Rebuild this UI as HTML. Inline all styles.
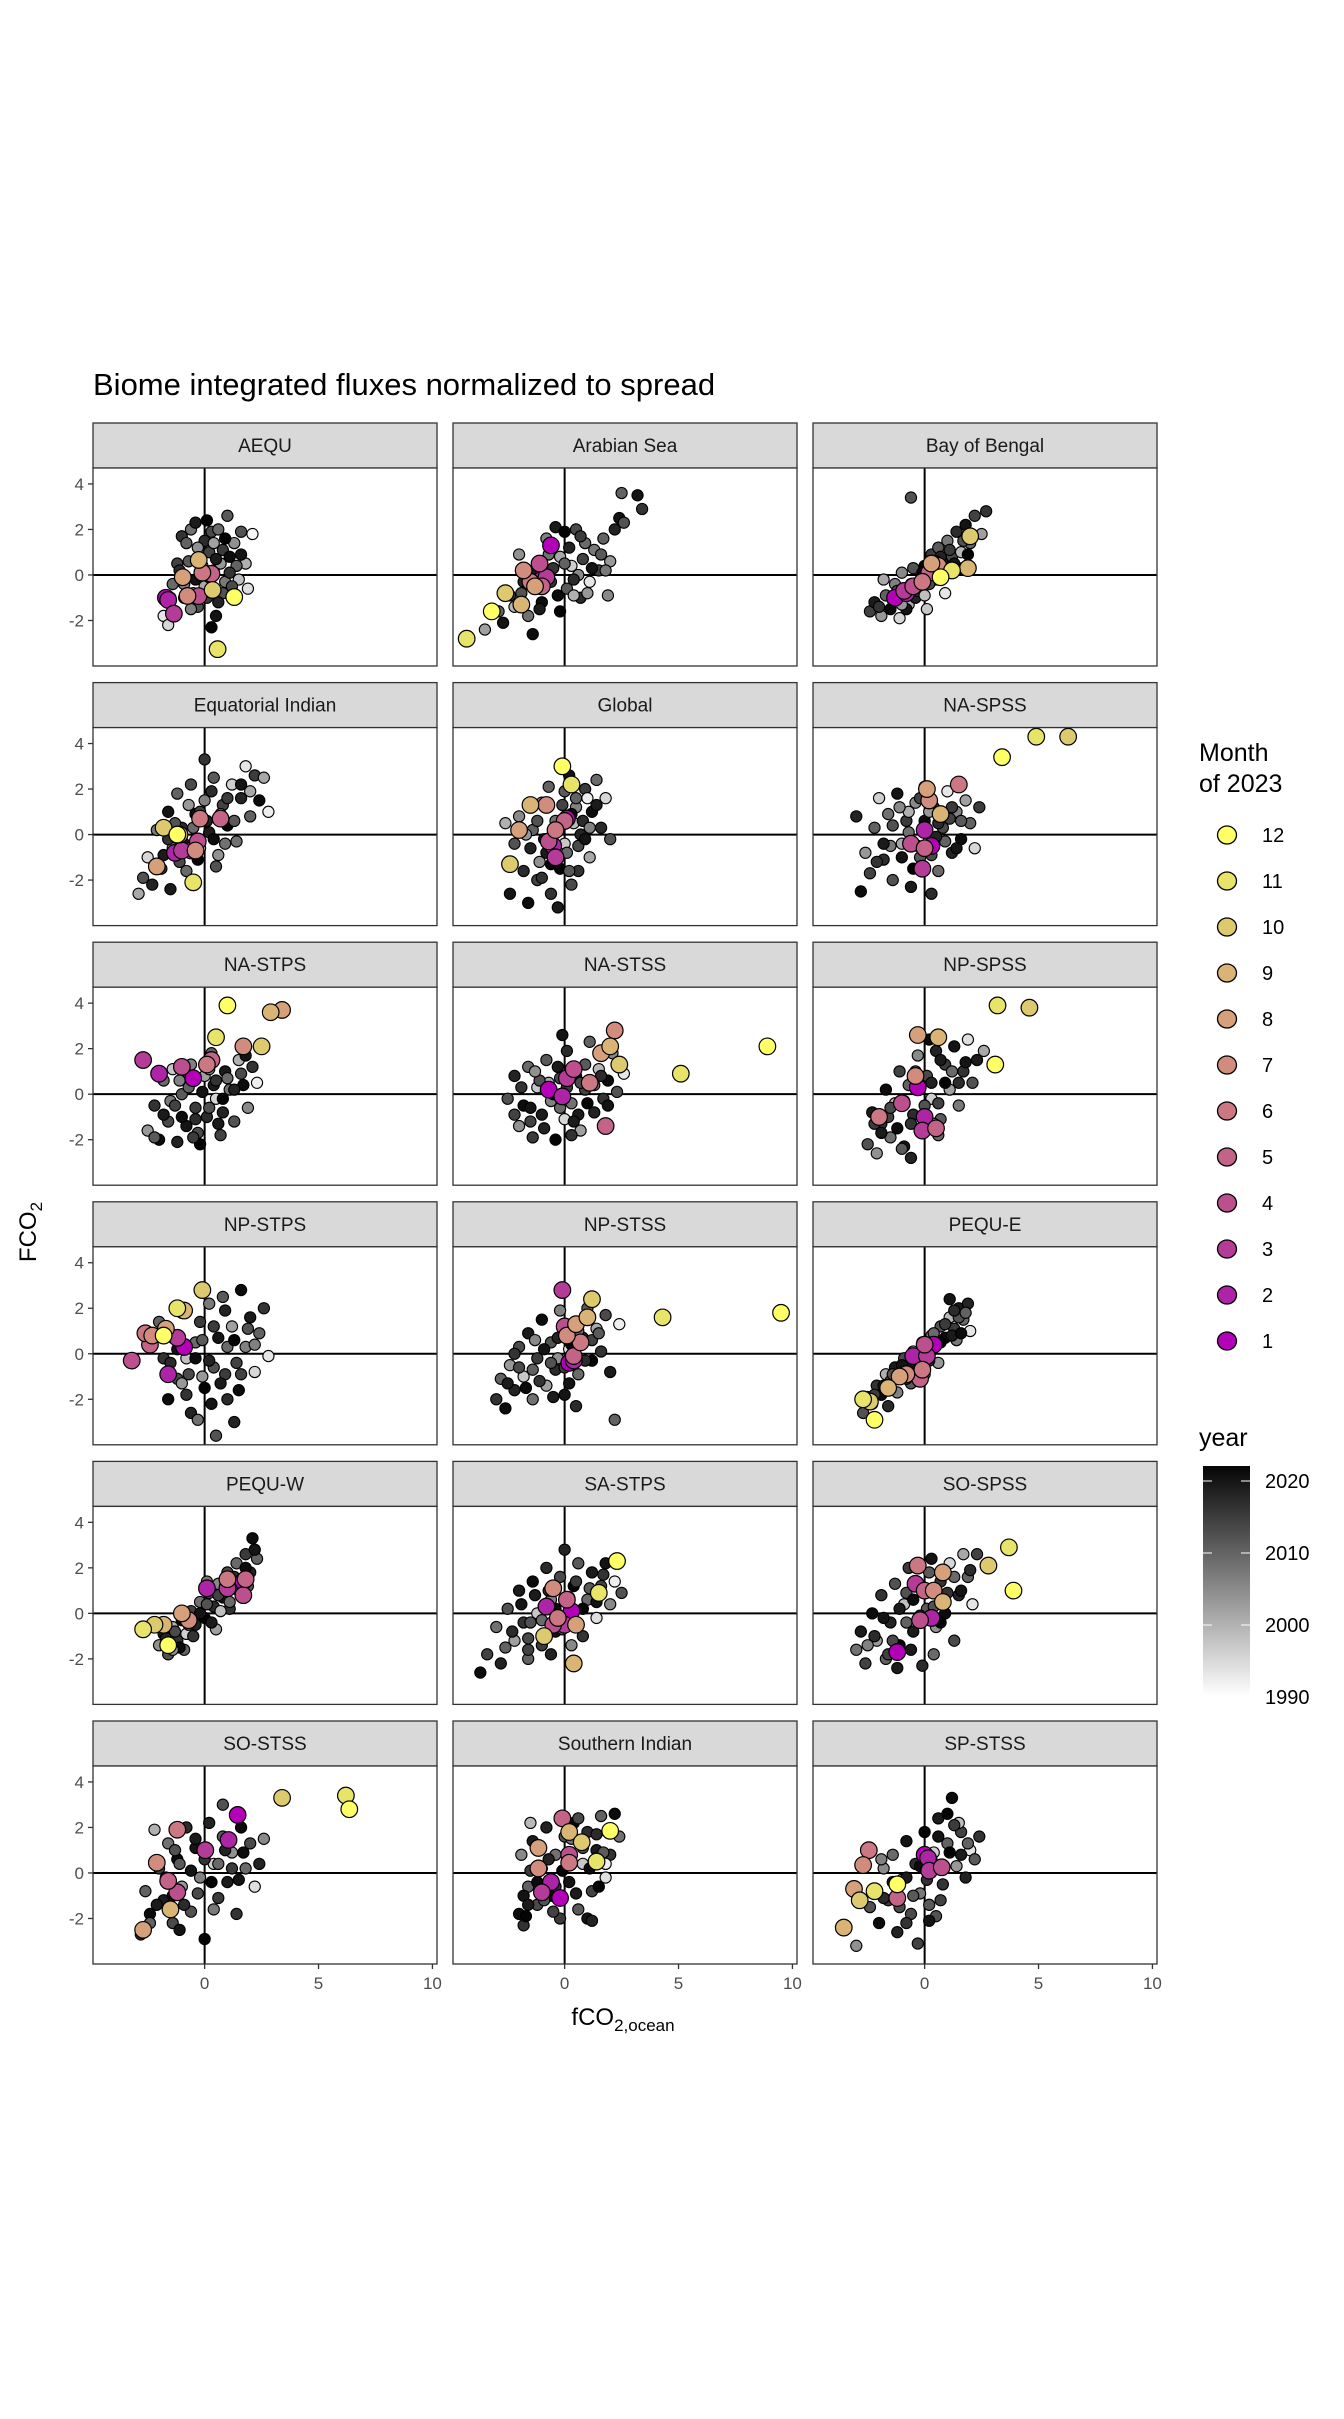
<!DOCTYPE html>
<html><head><meta charset="utf-8"><style>
html,body{margin:0;padding:0;background:#fff}
svg{display:block;font-family:"Liberation Sans",sans-serif}
</style></head><body>
<svg id="chart" width="1344" height="2419" viewBox="0 0 1344 2419" xmlns="http://www.w3.org/2000/svg">
<rect width="1344" height="2419" fill="#fff"/>
<text x="93" y="395" font-size="31" fill="#000">Biome integrated fluxes normalized to spread</text>
<text transform="translate(36,1232) rotate(-90)" font-size="24" text-anchor="middle" fill="#000">FCO<tspan font-size="17" dy="6">2</tspan></text>
<text x="623" y="2025" font-size="24" text-anchor="middle" fill="#000">fCO<tspan font-size="17" dy="6">2,ocean</tspan></text>
<g id="panels"></g>
<g id="legend"></g>
</svg>
<script>
const biomes = ["AEQU","Arabian Sea","Bay of Bengal","Equatorial Indian","Global","NA-SPSS","NA-STPS","NA-STSS","NP-SPSS","NP-STPS","NP-STSS","PEQU-E","PEQU-W","SA-STPS","SO-SPSS","SO-STSS","Southern Indian","SP-STSS"];
const xTicks = [0,5,10];
const yTicks = [4,2,0,-2];
const months = [1,2,3,4,5,6,7,8,9,10,11,12];
const monthColors = ["#B400B8","#AD25A6","#B43C98","#BC4F8E","#C46388","#CC7882","#D28C7E","#D6A07A","#D9B474","#DDCA6E","#E8E46A","#FFFF66"];
const yearTicks = [2020,2010,2000,1990];
// gray points: x,y,year triples per biome
const grayPts = [
[-1.8,-1.8,1993,-1.6,-2.2,1995,-1.5,-1.0,2021,-1.2,0.5,2014,-1.0,1.7,2016,-0.8,1.4,2010,-0.6,2.0,2008,-0.4,2.3,2019,-0.3,-1.4,2012,-0.2,0.9,2005,0,1.5,2017,0,-0.5,2001,0.1,2.4,2022,0.3,1.9,2013,0.4,0.2,2018,0.5,-1.8,2020,0.6,2.0,2009,0.8,1.1,2015,0.9,-0.3,2007,1.0,2.6,2011,1.1,0.8,2021,1.3,1.4,2004,1.5,-0.2,1998,1.6,1.9,2012,1.8,0.5,2000,1.9,-0.6,1994,2.1,1.8,1991,-0.9,-0.4,2006,-0.5,-0.8,1999,0.2,-0.1,2016,0.7,0.5,2003,-1.3,-1.6,2019,0.3,-2.3,2022,1.4,0.4,2010],
[-3.5,-2.4,2002,-2.9,-1.6,2010,-2.7,-2.1,2020,-2.4,-0.9,2015,-2.2,-1.4,1999,-2.0,0.9,2004,-1.8,-0.3,2018,-1.6,-1.8,2008,-1.2,0.5,2012,-1.0,-1.2,2021,-0.8,1.6,2006,-0.6,-0.3,2016,-0.4,2.1,2019,-0.2,0.8,2001,0,1.9,2022,0.1,-0.6,2011,0.3,0.4,1996,0.5,2.0,2013,0.7,-1.0,2017,0.9,1.4,2009,1.1,-0.3,1993,1.3,1.1,2007,1.5,0.2,2014,1.7,1.6,2010,1.9,-0.9,2005,2.0,0.6,2003,2.2,2.0,2018,2.4,2.5,2020,2.6,2.3,2012,2.5,3.6,2010,3.2,3.5,2020,3.4,2.9,2016,-1.4,-2.6,2021,0.4,-0.9,2000,-0.9,0.2,2015],
[-2.4,-1.6,2014,-2.2,-1.2,2019,-1.9,-1.8,2003,-1.7,-0.9,2010,-1.5,-1.5,2021,-1.3,-0.4,2006,-1.1,-1.9,1995,-0.9,-0.7,2016,-0.7,-1.3,2000,-0.5,0.3,2012,-0.4,-1.0,2018,-0.2,-0.3,2008,0,0.4,2022,0.1,-1.5,1997,0.3,0.9,2015,0.5,-0.2,2004,0.6,1.2,2011,0.8,0.5,2019,1.0,1.5,2007,1.2,0.8,2013,1.4,1.9,2017,1.6,1.0,1999,1.8,2.2,2020,2.0,1.4,2009,2.2,2.6,2014,2.5,1.8,2002,2.7,2.8,2016,-0.6,3.4,2012,-1.0,0.1,2005,0.9,-0.8,1993,1.5,0.3,2010,-1.8,-0.2,2001],
[-2.9,-2.6,2001,-2.7,-1.9,2012,-2.5,-1.0,1995,-2.3,-2.2,2018,-2.1,0.2,2007,-1.9,-1.5,2015,-1.6,1.0,2020,-1.4,-0.6,2003,-1.2,1.8,2010,-1.0,0.3,2017,-0.8,-1.6,2009,-0.6,2.2,2013,-0.4,0.9,2021,-0.2,-0.6,1998,0,3.3,2016,0,1.5,2006,0.2,0.1,2019,0.4,2.5,2011,0.6,-0.9,2004,0.8,1.3,2014,1.0,0.4,2022,1.2,2.2,1996,1.4,-0.3,2008,1.6,1.6,2018,1.8,3.0,1993,2.0,0.8,2010,2.2,2.6,2015,2.4,1.5,2021,2.6,2.5,2001,2.8,1.0,1992,-1.5,-2.4,2019,0.5,-1.4,2012],
[-2.4,-2.6,2020,-2.2,-0.4,2012,-2.0,0.8,2005,-1.8,-1.6,2017,-1.6,-3.0,2021,-1.4,0.2,2010,-1.2,-2.0,2014,-1.0,1.4,2002,-0.8,-0.8,2019,-0.6,-2.6,2016,-0.4,0.6,2008,-0.2,-1.5,2022,0,1.9,2011,0,-0.4,1997,0.2,2.6,2020,0.3,-2.2,2013,0.5,1.2,2006,0.7,0.0,2018,0.9,2.0,2015,1.1,-1.0,2001,1.2,1.0,2021,1.4,2.4,2009,1.6,0.3,2017,1.8,1.6,1995,2.0,-0.2,2012,-1.1,-1.2,2004,-0.3,-3.2,2019,0.4,0.5,1999,-0.7,2.1,2010,1.0,1.6,1992,-2.6,0.5,2000,0.6,-1.6,2016],
[-3.0,0.8,2018,-2.8,-2.5,2021,-2.6,-0.8,2003,-2.4,-1.7,2014,-2.2,0.3,2010,-2.0,1.6,1996,-1.8,-1.1,2017,-1.6,0.9,2008,-1.4,-2.0,2012,-1.2,1.8,2020,-1.0,-0.4,2001,-0.8,0.6,2015,-0.6,-2.3,2019,-0.4,1.4,2005,-0.2,-1.0,2011,0,2.1,2022,0.2,-0.2,1998,0.4,1.2,2016,0.6,-1.6,2009,0.8,0.3,2013,1.0,1.9,1993,1.2,-0.8,2018,1.4,1.0,2006,1.6,-0.2,2021,1.8,1.5,2002,2.0,0.5,2010,2.2,-0.6,1995,2.4,1.2,2015,-1.5,-0.5,2007,0.3,-2.6,2017,-0.7,1.0,2000,1.1,0.7,2014],
[-2.5,-1.6,2003,-2.2,-0.5,2016,-2.0,-2.0,2021,-1.8,0.6,2009,-1.6,-1.2,2013,-1.4,1.1,1997,-1.2,-2.1,2018,-1.0,0.0,2011,-0.8,-1.4,2020,-0.6,1.3,2006,-0.4,-0.6,2015,-0.2,-2.2,2022,0,0.8,2002,0.1,-1.0,2017,0.3,1.8,2010,0.5,-0.2,1995,0.7,-1.8,2014,0.9,1.0,2019,1.1,0.2,2008,1.3,-1.2,2012,1.5,1.5,2000,1.7,0.4,2021,1.9,-0.6,2005,2.1,1.2,2016,2.3,0.5,1992,-0.9,0.9,2010,0.4,0.4,2019,-1.5,-0.3,2007,0.8,-0.8,2018,-0.3,-1.7,2013],
[-2.5,-0.2,2012,-2.2,0.8,2018,-2.0,-1.4,2004,-1.8,-0.5,2021,-1.6,1.2,2009,-1.4,-1.9,2015,-1.2,0.3,1997,-1.0,-0.9,2019,-0.8,1.5,2011,-0.6,-0.3,2006,-0.4,-2.0,2022,-0.2,0.7,2013,0,-1.1,1995,0.1,1.9,2017,0.3,-0.4,2008,0.5,0.8,2020,0.7,-1.6,2002,0.9,0.2,2014,1.1,2.3,2010,1.3,-0.8,2018,1.5,1.1,1999,1.7,-0.2,2016,1.9,0.6,2021,2.1,1.8,2005,2.3,0.1,2012,2.6,0.9,1993,-1.5,-1.2,2014,-0.7,0.5,2001,0.6,-0.9,2019,-0.1,2.6,2020],
[-2.5,-2.2,2012,-2.3,-0.8,2019,-2.1,-2.6,2004,-1.9,-1.3,2016,-1.7,0.2,2021,-1.5,-1.9,2008,-1.3,-0.4,1999,-1.1,1.0,2014,-0.9,-2.3,2020,-0.7,0.4,2010,-0.5,-0.9,2017,-0.3,1.7,2005,-0.1,-1.6,2022,0.1,0.8,2013,0.3,-0.2,1996,0.5,1.9,2018,0.7,-1.1,2011,0.9,1.3,2015,1.1,0.2,2002,1.3,2.1,2020,1.5,-0.5,2007,1.7,1.0,2016,1.9,2.4,1994,2.1,0.5,2012,2.3,1.5,2019,2.6,1.9,2001,-0.6,-2.8,2018,0.6,-1.8,2009,-1.6,-1.0,2014,0.2,2.4,2021],
[-2.0,1.4,2010,-1.8,-0.2,2016,-1.6,-2.0,2021,-1.4,0.7,2004,-1.2,-1.1,2013,-1.0,1.8,2019,-0.8,-0.2,1998,-0.6,-2.6,2018,-0.4,0.5,2009,-0.2,1.4,2015,0,-1.5,2022,0.2,2.2,2007,0.4,-0.6,2012,0.6,0.7,2020,0.8,2.5,2011,1.0,-2.0,2017,1.2,1.2,2002,1.4,-0.4,2014,1.6,2.8,2021,1.8,0.3,2006,2.0,1.6,2019,2.2,-0.8,1995,2.4,0.9,2010,2.6,2.0,2016,2.8,-0.1,1993,0.5,-3.6,2012,-0.3,-2.9,2008,1.3,-3.0,2018,-1.0,-1.3,2003,0.9,-0.9,2015],
[-3.0,-2.0,2016,-2.8,-1.1,2010,-2.6,-2.4,2021,-2.4,-0.5,2003,-2.2,-1.6,2018,-2.0,0.3,2013,-1.8,-1.0,1997,-1.6,0.9,2019,-1.4,-2.0,2008,-1.2,-0.2,2015,-1.0,1.5,2021,-0.8,-1.4,2002,-0.6,0.5,2012,-0.4,-0.7,2017,-0.2,1.9,2006,0,-1.8,2020,0.2,0.2,1994,0.4,1.3,2014,0.6,-0.9,2009,0.8,0.7,2018,1.0,2.0,2011,1.2,-0.3,2022,1.4,1.1,2001,1.6,0.1,2016,1.8,1.7,2013,2.0,-0.8,2019,2.2,-2.9,2010,2.4,1.3,1992,-0.3,-0.2,2004,0.5,-2.3,2017],
[-2.7,-2.6,2012,-2.5,-1.9,2018,-2.3,-2.2,2004,-2.1,-1.4,2016,-1.9,-1.8,2021,-1.7,-0.9,2000,-1.5,-1.2,2014,-1.3,-0.6,2019,-1.1,-1.0,2008,-0.9,-0.2,2013,-0.7,-0.6,2020,-0.5,0.1,1996,-0.3,-0.3,2016,-0.1,0.5,2010,0.1,0.0,2022,0.3,0.8,2005,0.5,0.4,2017,0.7,1.2,2012,0.9,0.7,2021,1.1,1.6,1999,1.3,1.1,2015,1.5,2.0,2019,1.7,1.5,2009,1.9,2.2,2018,2.0,1.0,1993,1.1,2.4,2020,0.6,-0.4,2003,-0.6,-1.3,2011,1.4,0.6,2007,-1.6,-2.3,2017],
[-2.0,-1.4,2004,-1.8,-0.9,2019,-1.6,-1.8,2012,-1.4,-0.6,2000,-1.2,-1.2,2016,-1.0,-0.3,2021,-0.8,-0.9,1996,-0.6,0.1,2014,-0.4,-0.5,2018,-0.2,0.5,2008,0,-0.2,2022,0.2,0.9,2011,0.4,0.3,2017,0.6,1.3,2005,0.8,0.7,2020,1.0,1.8,2013,1.2,1.1,2019,1.4,2.2,2009,1.6,1.4,2021,1.8,2.6,2015,2.0,1.8,2018,2.1,3.3,2021,2.3,2.4,2010,1.7,0.8,1993,0.5,-0.7,2002,-0.9,-1.6,2010,1.1,0.2,2016,0.1,1.4,2007],
[-3.7,-2.6,2021,-3.4,-1.8,2014,-3.0,-0.6,2008,-2.8,-2.2,2018,-2.5,0.2,2012,-2.2,-1.2,2002,-2.0,1.0,2019,-1.8,-0.4,2016,-1.6,-2.0,2010,-1.4,1.4,2021,-1.2,0.0,1997,-1.0,-1.4,2015,-0.8,2.0,2017,-0.6,0.6,2006,-0.4,-0.8,2020,-0.2,1.6,2013,0,2.8,2018,0.2,-0.2,2001,0.4,1.2,2022,0.6,2.2,2011,0.8,-1.0,2016,1.0,0.6,2009,1.2,1.8,2019,1.4,-0.2,1994,1.6,1.2,2014,1.8,2.2,2020,2.0,0.4,2005,2.2,1.4,1992,2.5,0.9,2012,-1.6,-1.1,2013],
[-3.0,-1.6,2008,-2.8,-0.8,2019,-2.6,-2.2,2014,-2.3,0.0,2021,-2.1,-1.2,2003,-1.9,0.8,2016,-1.7,-2.0,2010,-1.5,-0.4,2018,-1.3,1.3,2012,-1.1,-1.4,2022,-0.9,0.4,1998,-0.7,2.0,2015,-0.5,-0.8,2019,-0.3,1.2,2007,-0.1,-2.3,2017,0.1,0.2,2011,0.3,2.4,2020,0.5,-0.6,2004,0.7,1.4,2016,0.9,0.0,2021,1.1,2.2,1995,1.3,-1.2,2013,1.5,0.8,2018,1.7,2.6,2001,1.9,1.6,2010,2.1,0.4,1993,2.3,2.6,2014,-1.2,-2.4,2019,0.4,-1.8,2009,-0.8,0.9,2012],
[-2.8,-2.7,2016,-2.6,-0.8,2010,-2.4,-1.8,2021,-2.2,1.9,2000,-2.0,0.2,2014,-1.8,-1.2,2019,-1.6,1.3,2008,-1.4,-2.2,2013,-1.2,0.6,2021,-1.0,-0.6,2003,-0.8,2.0,2017,-0.6,-1.7,2012,-0.4,1.1,2020,-0.2,-0.2,2006,0,-2.9,2022,0.2,2.2,2018,0.4,0.4,1996,0.6,-1.1,2015,0.8,1.6,2011,1.0,-0.4,2019,1.2,0.9,2004,1.4,-1.8,2016,1.6,2.0,2021,1.8,0.2,2009,2.0,1.3,2013,2.2,-0.6,1994,2.4,0.4,2018,2.6,1.5,2005,0.8,3.0,2012,-1.1,-2.5,2020],
[-2.0,-1.8,2021,-1.9,0.8,2005,-1.8,-2.3,2016,-1.6,-0.6,2010,-1.4,1.4,2019,-1.2,-1.4,2013,-1.0,0.2,2002,-0.8,2.0,2018,-0.6,-1.0,2021,-0.4,0.8,2008,-0.2,-2.0,2015,0,1.6,2012,0.2,-0.4,2020,0.4,2.2,2022,0.6,-1.6,2011,0.8,0.4,1997,1.0,1.8,2017,1.2,-0.8,2014,1.4,1.0,2019,1.6,2.5,2010,1.8,-0.2,1994,2.0,0.8,2016,2.2,2.6,2021,2.4,1.6,2008,1.0,-2.0,2020,1.2,-2.1,2018,-1.5,2.2,1999,0.6,2.4,2013,-1.7,-1.9,2022,1.8,0.4,1992],
[-2.4,-1.5,2012,-2.2,-0.8,2019,-2.0,-2.2,2021,-1.8,0.2,2005,-1.6,-1.2,2015,-1.4,0.8,2009,-1.2,-2.6,2018,-1.0,-0.3,2001,-0.8,1.4,2020,-0.6,-1.8,2013,-0.4,0.4,2017,-0.2,-0.9,2007,0,1.8,2022,0.2,-1.4,2011,0.4,0.9,1996,0.6,2.4,2019,0.8,-0.5,2016,1.0,1.3,2010,1.2,3.3,2021,1.4,0.3,2003,1.6,1.8,2014,1.8,-0.2,2018,2.0,1.0,1993,2.2,0.6,2011,2.4,1.6,2016,1.0,2.6,2022,-3.0,-3.2,2004,-0.3,-3.1,2014,0.5,-1.9,2012,1.5,2.2,1998]
];
// additional core-of-cloud gray points: x,y,year triples per biome
const grayCore = [
[-1.1,0.2,2017,-0.7,0.6,2011,-0.4,-0.2,2020,-0.1,0.4,2008,0.2,1.0,2014,0.5,0.7,2019,0.8,-0.8,2012,1.1,0.1,2016,-0.9,-1.0,2021,-0.3,1.2,2004,0.6,-1.2,2018,1.2,-0.5,2013,-1.4,-0.4,2009,0.1,-1.0,2015,0.9,1.6,2022,-0.6,-1.5,2006,1.6,0.9,2020,0.4,1.4,2002],
[-1.5,0.1,2019,-1.2,-0.6,2013,-0.5,0.3,2016,-0.3,-0.9,2021,0,0.5,2010,0.2,1.2,2018,0.6,0.0,2005,0.8,0.7,2014,1.2,0.3,2020,-0.7,0.9,2008,-1.9,-0.8,2012,0.4,-0.2,2017,1.0,-0.8,2003,1.6,0.9,2011,-0.2,-1.6,2022,0.7,1.7,2015,-1.1,-1.5,2019,1.8,0.2,2007],
[-1.4,-1.1,2018,-1.2,-0.7,2012,-0.8,-1.5,2020,-0.6,-0.4,2009,-0.3,-0.7,2016,-0.1,0.1,2021,0.2,-0.4,2013,0.4,0.3,2006,0.7,0.8,2018,0.9,0.2,2011,1.1,1.1,2015,1.3,0.5,2020,-1.0,-1.3,2003,0.0,-0.9,1998,1.7,1.5,2012,-2.0,-1.4,2016,0.5,0.6,2019,1.9,0.9,2022],
[-1.6,-0.2,2016,-1.3,0.5,2012,-0.9,-0.4,2020,-0.5,0.3,2009,-0.2,1.0,2014,0.1,0.6,2018,0.4,-0.2,2021,0.7,0.9,2006,1.0,1.6,2015,1.3,0.6,2011,-1.8,-0.9,2019,-0.7,1.3,2003,0.3,1.9,2017,-1.1,-1.2,2013,0.9,-0.4,2008,1.6,2.2,2020,-0.3,-1.1,2022,2.0,1.9,2001],
[-1.5,-0.6,2018,-1.2,0.6,2012,-0.9,-0.2,2020,-0.5,-0.5,2015,-0.2,0.3,2019,0.1,-0.8,2009,0.3,0.9,2021,0.6,-0.5,2013,0.8,0.6,2017,1.1,0.3,2006,-0.6,-1.3,2022,-0.1,1.3,2014,0.5,1.6,2010,-1.0,-1.9,2016,1.4,1.3,2019,0.2,-1.6,2011,-1.7,0.0,2003,0.9,-0.2,2020],
[-1.8,-0.4,2019,-1.4,0.4,2012,-1.0,-1.0,2020,-0.7,0.1,2008,-0.3,-0.5,2016,0,0.6,2021,0.3,-0.9,2013,0.6,0.5,2017,0.9,-0.3,2010,1.2,1.2,2015,-1.1,1.2,2005,-0.5,-1.5,2022,0.5,-0.1,2018,1.6,0.6,2011,-2.1,-1.2,2016,0.2,1.0,2003,1.4,-0.6,2020,-0.2,1.6,2014],
[-1.8,-0.9,2019,-1.3,-0.5,2014,-1.0,-1.0,2021,-0.7,0.3,2010,-0.4,-1.1,2017,-0.1,0.1,2020,0.2,-0.6,2012,0.5,0.6,2016,0.8,-0.2,2022,1.0,0.7,2009,1.3,0.2,2018,-1.1,0.6,2006,-0.5,-1.9,2015,0.6,-1.3,2019,1.6,0.9,2013,-2.2,-1.9,2011,0.2,1.1,2004,1.8,1.7,2020],
[-1.9,0.3,2016,-1.5,-0.6,2020,-1.1,0.6,2012,-0.9,-1.5,2018,-0.5,0.0,2021,-0.2,-0.6,2009,0.1,0.3,2015,0.4,-1.2,2019,0.7,0.5,2013,1.0,-0.4,2022,1.3,0.4,2008,1.6,0.8,2017,-1.3,1.0,2004,-0.3,1.2,2019,0.9,1.3,2011,-2.2,-0.9,2014,0.3,-1.8,2016,1.9,-0.5,2020],
[-1.9,-1.7,2019,-1.5,-0.6,2013,-1.2,-1.5,2021,-0.9,-0.3,2010,-0.6,-1.3,2016,-0.3,0.2,2020,0,-0.5,2012,0.3,0.5,2018,0.6,-0.4,2014,0.9,0.5,2022,1.2,1.0,2009,1.5,0.5,2017,-2.2,-1.3,2015,-0.4,1.0,2007,0.7,1.5,2019,-1.0,-2.4,2011,1.8,1.4,2020,0.4,-1.3,2003],
[-1.5,-0.4,2017,-1.2,0.2,2020,-0.7,-0.9,2013,-0.4,-0.2,2021,-0.1,0.6,2011,0.2,-0.3,2018,0.4,1.2,2015,0.7,-1.3,2019,1.0,0.3,2009,1.3,0.6,2022,1.6,-0.9,2014,1.9,1.1,2012,0.3,-2.2,2020,-0.8,-1.8,2016,2.2,0.4,2006,0.9,1.9,2018,-0.1,-1.0,2003,1.5,-1.6,2021],
[-2.5,-1.3,2019,-2.0,-0.6,2013,-1.7,-1.5,2021,-1.4,-0.7,2010,-1.1,-1.2,2016,-0.9,0.2,2020,-0.6,-0.4,2012,-0.3,0.7,2018,0,-0.6,2015,0.3,0.4,2022,0.6,1.0,2009,0.9,-0.3,2017,1.2,0.6,2014,-1.3,0.6,2005,-0.5,-1.9,2019,1.5,0.9,2011,0.2,-1.3,2020,-2.2,0.0,2016],
[-2.2,-1.8,2015,-1.8,-1.4,2019,-1.4,-0.9,2012,-1.0,-0.5,2020,-0.8,-1.1,2016,-0.4,-0.2,2021,0,0.3,2013,0.2,-0.3,2018,0.4,0.9,2009,0.7,0.5,2022,0.9,1.3,2015,1.2,0.8,2019,1.5,1.6,2012,1.6,0.9,2021,1.8,1.8,2010,-1.2,-1.7,2006,0.0,-0.9,2001,1.3,1.9,2017],
[-1.7,-1.1,2018,-1.3,-0.8,2013,-1.1,-1.5,2021,-0.7,-0.5,2010,-0.5,-1.0,2016,-0.2,0.0,2020,0.1,0.4,2012,0.3,-0.4,2019,0.6,0.8,2014,0.9,1.2,2022,1.1,0.5,2009,1.3,1.6,2017,1.5,1.0,2015,1.8,2.0,2021,1.9,1.2,2011,-1.4,-1.6,2004,0.7,0.1,1998,2.2,2.8,2020],
[-2.3,-0.8,2017,-1.9,0.4,2020,-1.5,-0.4,2012,-1.3,0.8,2019,-1.0,-0.3,2009,-0.7,1.0,2016,-0.4,0.2,2021,-0.1,-0.7,2013,0.2,0.7,2018,0.5,1.4,2015,0.8,0.2,2022,1.1,1.1,2011,1.4,0.5,2020,-1.6,-1.6,2014,-0.6,-1.8,2018,0.3,-1.4,2005,1.7,1.7,2016,-2.6,-1.5,2010],
[-2.2,-1.0,2017,-1.8,-0.2,2020,-1.4,-1.2,2013,-1.1,0.2,2019,-0.8,-0.4,2010,-0.5,0.6,2021,-0.2,-0.1,2015,0.1,1.0,2018,0.4,0.3,2012,0.7,-0.4,2022,1.0,0.9,2016,1.3,1.6,2009,1.6,1.0,2020,-1.6,-1.8,2014,-0.6,-1.6,2019,0.2,1.8,2011,2.0,1.9,2017,-2.5,-1.4,2006],
[-2.1,-1.4,2019,-1.7,-0.2,2014,-1.4,-1.0,2021,-1.1,0.4,2011,-0.9,-1.4,2017,-0.6,0.1,2020,-0.3,-0.9,2013,0,0.6,2016,0.3,-0.4,2022,0.6,0.4,2009,0.9,1.0,2018,1.2,0.2,2015,1.5,-0.3,2020,-1.3,1.0,2012,-0.4,1.5,2019,0.4,-1.6,2007,1.7,0.9,2021,-2.4,-2.2,2010],
[-1.8,-1.0,2020,-1.5,0.1,2015,-1.2,-0.4,2021,-0.9,-1.2,2012,-0.7,0.6,2018,-0.4,-0.6,2016,-0.1,0.1,2022,0.2,0.9,2010,0.5,-0.9,2019,0.8,1.1,2013,1.1,0.2,2021,1.4,1.7,2017,1.7,0.9,2011,2.0,1.9,2020,-0.5,-1.7,2014,-1.6,-1.4,2019,0.3,1.5,2008,1.5,-0.6,2022],
[-1.8,-1.1,2017,-1.4,-0.4,2020,-1.1,-1.5,2013,-0.8,-0.2,2019,-0.5,-1.0,2011,-0.2,0.3,2021,0.1,-0.3,2016,0.3,0.6,2018,0.6,1.6,2020,0.8,0.3,2012,1.1,0.9,2022,1.3,2.1,2015,1.6,0.8,2019,1.9,1.3,2010,-0.8,-2.2,2016,0.2,-2.1,2020,-1.9,0.6,2006,0.7,-1.2,2014]
];
// month-of-2023 points: x,y pairs for months 1..12 per biome
const monthPts = [
[-1.7,-1.0,-1.6,-1.1,-1.35,-1.7,-0.27,-0.93,0.3,0.05,-0.1,0.1,-0.75,-0.92,-0.96,-0.1,-0.26,0.66,0.35,-0.66,0.57,-3.26,1.3,-0.97],
[-0.6,1.3,-1.0,-0.2,-0.8,-0.1,-1.1,0.5,-1.0,-0.5,-1.5,-0.3,-1.8,0.2,-1.3,-0.5,-1.9,-1.3,-2.6,-0.8,-4.3,-2.8,-3.2,-1.6],
[-1.3,-1.0,-0.8,-0.8,-0.9,-0.7,-0.5,-0.5,0.2,0.1,-0.1,-0.3,0.6,0.4,0.3,0.5,1.9,0.3,2.0,1.7,1.2,0.2,0.7,-0.1],
[-0.6,-0.7,-1.3,-0.8,-1.0,-0.7,-0.3,-0.3,0.7,0.7,-0.2,0.7,-0.4,-0.7,-2.1,-1.4,-1.1,0,-1.8,0.3,-0.5,-2.1,-1.2,0],
[0.1,0.7,-0.5,-0.5,-0.4,-1.0,-0.7,-0.3,0,0.6,-0.4,0.2,-0.8,1.3,-2.0,0.2,-1.5,1.3,-2.4,-1.3,0.3,2.2,-0.1,3.0],
[0.3,-0.5,0,0.2,-0.1,-1.5,-0.6,-0.4,0,-0.6,1.5,2.2,0.2,1.5,0.1,2.0,0.7,0.9,6.3,4.3,4.9,4.3,3.4,3.4],
[-0.5,0.7,-2.0,0.9,-2.7,1.5,-1.0,1.2,0.3,1.5,0.1,1.3,1.7,2.1,3.4,3.7,2.9,3.6,2.5,2.1,0.5,2.5,1.0,3.9],
[-0.7,0.2,-0.1,-0.1,0.1,0.7,0.4,1.1,1.8,-1.4,1.1,0.5,2.2,2.8,1.6,1.8,2.0,2.1,2.4,1.3,5.1,0.9,8.9,2.1],
[-0.3,0.3,0,-1.0,-0.1,-1.6,-1.0,-0.4,0.5,-1.5,-2.0,-1.0,-0.4,0.8,-0.3,2.6,0.6,2.5,4.6,3.8,3.2,3.9,3.1,1.3],
[-0.9,0.3,-1.6,-0.9,-1.2,0.7,-3.2,-0.3,-2.4,0.4,-2.6,0.9,-2.3,0.8,-1.7,1.1,-0.9,1.9,-0.1,2.8,-1.2,2.0,-1.8,0.8],
[0.2,-0.4,0.4,-0.3,-0.1,2.8,0,1.2,0.4,-0.1,0.7,0.5,0.1,0.8,0.5,1.3,1.0,1.6,1.2,2.4,4.3,1.6,9.5,1.8],
[0.4,0.4,-0.5,-0.1,0.1,-0.1,0,0.4,-0.2,-1.1,-0.1,-0.7,-0.8,-0.9,-1.1,-1.0,-1.6,-1.5,-2.4,-2.1,-2.7,-2.0,-2.2,-2.9],
[1.7,1.4,0.1,1.1,1.0,1.1,1.7,0.8,1.8,1.5,1.0,1.5,-0.7,-0.3,-1.0,0,-1.8,-0.5,-2.2,-0.5,-2.7,-0.7,-1.6,-1.4],
[0.3,0.1,-0.8,0.3,0,-0.5,-0.5,-0.5,0.1,0.6,-0.3,-0.2,-0.5,1.1,0.5,-0.5,0.4,-2.2,-0.9,-1.0,1.5,0.9,2.3,2.3],
[-1.2,-1.7,0.3,-0.2,-0.4,1.3,-0.2,-0.3,0,1.0,-0.3,2.1,0.4,1.0,0.8,1.8,0.8,0.5,2.8,2.1,3.7,2.9,3.9,1.0],
[1.45,2.55,1.05,1.45,0.03,1.0,-1.2,-0.85,-1.6,-0.35,-1.2,1.9,-2.1,0.45,-2.7,-2.5,-1.5,-1.6,3.4,3.3,6.2,3.4,6.35,2.8],
[-0.2,-1.1,-0.6,-0.4,-1.0,-0.85,0.2,0.8,-0.1,2.4,0.2,0.45,-1.15,0.2,-1.15,1.1,0.2,1.8,0.75,1.35,1.4,0.5,2.0,1.85],
[0,0.8,0.15,0.65,0.2,0.1,0.75,0.25,-1.2,-1.1,-2.45,1.0,-2.7,0.35,-3.1,-0.7,-3.55,-2.4,-2.85,-1.2,-2.2,-0.8,-1.2,-0.5]
];

const NS="http://www.w3.org/2000/svg";
function mk(tag, attrs, parent){const e=document.createElementNS(NS,tag);for(const k in attrs)e.setAttribute(k,attrs[k]);if(parent)parent.appendChild(e);return e;}
const colLeft=[93,453,813], PW=344, stripTop0=423, rowPitch=259.6, stripH=45, plotH=198;
const xMin=-4.9,xMax=10.2,yMin=-4.0,yMax=4.7;
function yearGray(yr){const t=Math.max(0,Math.min(1,(yr-1990)/32));const v=Math.round(255*(1-t)*0.98+4);return `rgb(${v},${v},${v})`;}
const panelsG=document.getElementById('panels');
biomes.forEach((name,i)=>{
  const c=i%3, r=Math.floor(i/3);
  const L=colLeft[c], sT=stripTop0+r*rowPitch, pT=sT+stripH, pB=pT+plotH;
  const sx=v=>L+(v-xMin)/(xMax-xMin)*PW;
  const sy=v=>pB-(v-yMin)/(yMax-yMin)*plotH;
  const g=mk('g',{},panelsG);
  
  
  const strip=mk('rect',{x:L,y:sT,width:PW,height:stripH,fill:'#D9D9D9',stroke:'#333',"stroke-width":1.3},g);
  
  
  const st=mk('text',{x:L+PW/2,y:sT+29,"font-size":19,"text-anchor":"middle",fill:'#1A1A1A'},g);
  st.textContent=name;
  
  
  const bg=mk('rect',{x:L,y:pT,width:PW,height:plotH,fill:'#fff'},g);
  
  
  const vl=mk('line',{x1:sx(0),x2:sx(0),y1:pT,y2:pB,stroke:'#000',"stroke-width":2},g);
  
  
  const hl=mk('line',{x1:L,x2:L+PW,y1:sy(0),y2:sy(0),stroke:'#000',"stroke-width":2},g);
  
  
  const gp=grayPts[i].concat(grayCore[i]);
  for(let k=0;k<gp.length;k+=3){
    const p=mk('circle',{cx:sx(gp[k]),cy:sy(gp[k+1]),r:5.6,fill:yearGray(gp[k+2]),stroke:'#000',"stroke-width":1.1},g);
    
    
  }
  const mp=monthPts[i];
  months.forEach((m,j)=>{
    const p=mk('circle',{cx:sx(mp[2*j]),cy:sy(mp[2*j+1]),r:8.3,fill:monthColors[j],stroke:'#000',"stroke-width":1.2},g);
    
    
  });
  const bd=mk('rect',{x:L,y:pT,width:PW,height:plotH,fill:'none',stroke:'#333',"stroke-width":1.3},g);
  
  
  if(c===0){
    yTicks.forEach(t=>{
      const tk=mk('line',{x1:L-5,x2:L,y1:sy(t),y2:sy(t),stroke:'#333',"stroke-width":1.3},g);
      
      
      const tl=mk('text',{x:L-9,y:sy(t)+6,"font-size":17,"text-anchor":"end",fill:'#4D4D4D'},g);
      tl.textContent=String(t);
      
      
    });
  }
  if(r===5){
    xTicks.forEach(t=>{
      const tk=mk('line',{x1:sx(t),x2:sx(t),y1:pB,y2:pB+5,stroke:'#333',"stroke-width":1.3},g);
      
      
      const tl=mk('text',{x:sx(t),y:pB+25,"font-size":17,"text-anchor":"middle",fill:'#4D4D4D'},g);
      tl.textContent=String(t);
      
      
    });
  }
});
// legend
const lg=document.getElementById('legend');
const t1=mk('text',{x:1199,y:761,"font-size":25,fill:'#000'},lg);
t1.textContent='Month';


const t2=mk('text',{x:1199,y:792,"font-size":25,fill:'#000'},lg);
t2.textContent='of 2023';


months.slice().reverse().forEach((m,j)=>{
  const y=835+j*46;
  const c=mk('ellipse',{cx:1227,cy:y,rx:9.5,ry:9,fill:monthColors[m-1],stroke:'#000',"stroke-width":1.3},lg);
  
  
  const tx=mk('text',{x:1262,y:y+7,"font-size":20,fill:'#000'},lg);
  tx.textContent=String(m);
  
  
});
const yt=mk('text',{x:1199,y:1446,"font-size":25,fill:'#000'},lg);
yt.textContent='year';


const defs=mk('defs',{},document.getElementById('chart'));
const grad=mk('linearGradient',{id:'yrgrad',x1:0,y1:0,x2:0,y2:1},defs);
mk('stop',{offset:'0',"stop-color":'#050505'},grad);
mk('stop',{offset:'1',"stop-color":'#ffffff'},grad);
const bar=mk('rect',{x:1203,y:1466,width:47,height:230,fill:'url(#yrgrad)'},lg);


const yrToY=yr=>1481+(2020-yr)*7.2;
yearTicks.forEach(yr=>{
  const y=yrToY(yr);
  const a=mk('line',{x1:1203,x2:1212,y1:y,y2:y,stroke:'#fff',"stroke-width":1},lg);
  
  
  const b=mk('line',{x1:1241,x2:1250,y1:y,y2:y,stroke:'#fff',"stroke-width":1},lg);
  
  
  const tx=mk('text',{x:1265,y:y+7,"font-size":20,fill:'#000'},lg);
  tx.textContent=String(yr);
  
  
});
</script>
</body></html>
